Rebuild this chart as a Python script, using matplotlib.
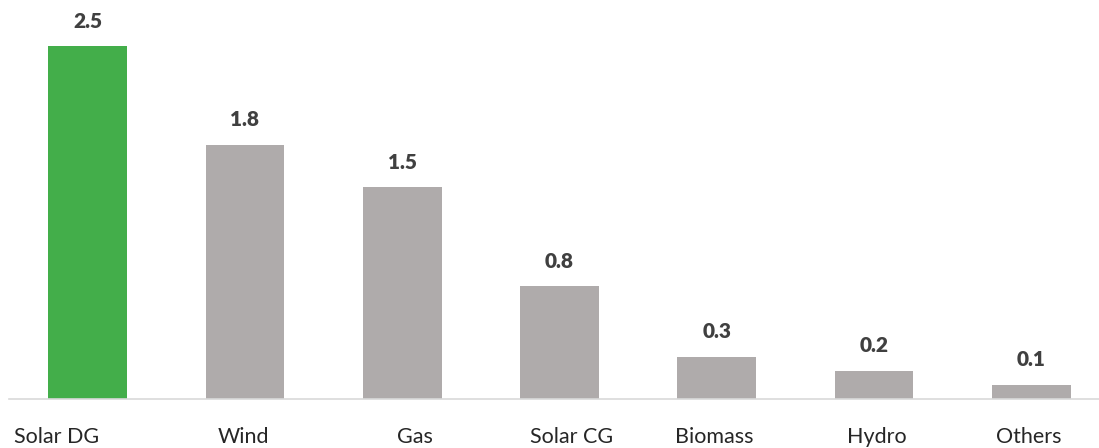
import matplotlib

matplotlib.use("Agg")

import matplotlib.pyplot as plt
import numpy as np

categories = ["Solar DG", "Wind", "Gas", "Solar CG", "Biomass", "Hydro", "Others"]
values = [2.5, 1.8, 1.5, 0.8, 0.3, 0.2, 0.1]

# bar colours: highlight the first one
green = "#43ae4a"
grey = "#afabab"
colors = [green] + [grey] * (len(values) - 1)

# small horizontal nudges (pixels) for the category labels
label_shift = [-31, -2, 13, 12, -3, 3, -3]

plt.rcParams["font.family"] = ["Lato", "DejaVu Sans"]

fig = plt.figure(figsize=(10.99, 4.48), dpi=100)
ax = fig.add_axes([9 / 1099, 49 / 448, 1 - 9 / 1099, 399 / 448])

x = np.arange(len(values))
bars = ax.bar(x, values, width=0.5, color=colors, zorder=2)

ax.set_xlim(-0.5, 6.43)
ax.set_ylim(0, 399 / 141.2)

# value labels above bars
for xi, v in zip(x, values):
    ax.annotate(f"{v:.1f}", (xi, v), xytext=(0, 25 * 0.72), textcoords="offset points",
                ha="center", va="center", fontsize=15, fontweight="heavy", color="#404040")

# category labels below the baseline
for xi, name, dx in zip(x, categories, label_shift):
    ax.annotate(name, (xi, 0), xytext=(dx * 0.72, -38 * 0.72), textcoords="offset points",
                ha="center", va="center", fontsize=15.5, color="#262626",
                annotation_clip=False)

ax.set_xticks([])
ax.set_yticks([])
for side in ["top", "right", "left"]:
    ax.spines[side].set_visible(False)
ax.spines["bottom"].set_color("#d9d9d9")
ax.spines["bottom"].set_linewidth(1.2)

fig.savefig("out.png", dpi=100)
